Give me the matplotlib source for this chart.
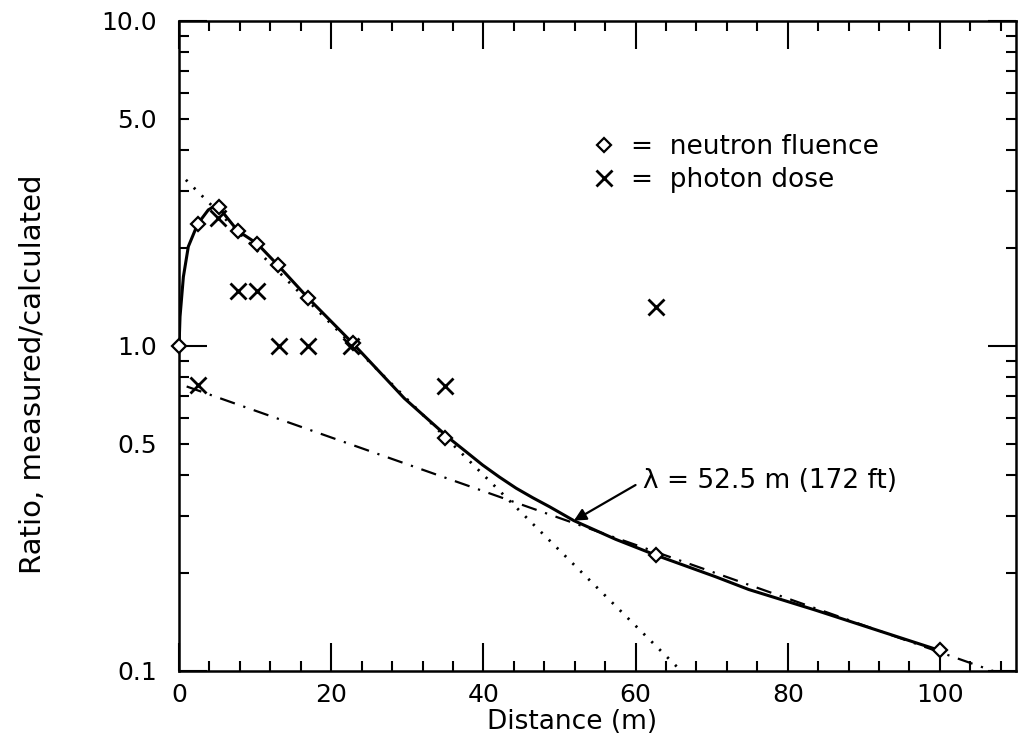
import numpy as np
import matplotlib
matplotlib.use('Agg')
import matplotlib.pyplot as plt
from matplotlib.lines import Line2D

# measured points
neutronX = [0, 2.5, 5.2, 7.7, 10.3, 13, 17, 22.8, 35, 62.7, 100]
neutronY = [1.0, 2.37, 2.67, 2.26, 2.06, 1.77, 1.40, 1.02, 0.52, 0.227, 0.116]
photonX = [2.5, 5.1, 7.8, 10.3, 13.2, 17, 22.6, 35, 62.7]
photonY = [0.76, 2.47, 1.47, 1.47, 1.0, 1.0, 1.0, 0.753, 1.32]

# smooth fitted curve
curveX = [0, 0.13, 0.57, 1.22, 2.45, 3.85, 4.7, 5.2, 7.7, 10.3, 13, 17, 22.8, 29.6,
          35.5, 37.7, 39.9, 42.1, 44.3, 46.5, 48.7, 51.9, 57.4, 62.7, 70.5, 74.9,
          83.6, 92.4, 99.8]
curveY = [1.0, 1.23, 1.63, 2.02, 2.37, 2.62, 2.69, 2.67, 2.26, 2.06, 1.77, 1.40, 1.02, 0.69,
          0.52, 0.473, 0.43, 0.395, 0.365, 0.341, 0.32, 0.29, 0.254, 0.227, 0.195, 0.178,
          0.154, 0.132, 0.116]

# straight (exponential) fits
dottedX = [0.9, 66]
dottedY = [3.24, 0.1]
dashdotX = [1, 107]
dashdotY = [0.75, 0.1]

xMajor = [0, 20, 40, 60, 80, 100]
yMajor = [0.1, 1.0, 10.0]
yMajorLabels = ['0.1', '1.0', '10.0']

fs = 19
tfs = 18
fig = plt.figure(figsize=(10.19, 7.42), dpi=100)
ax = fig.add_axes([0.1757, 0.0957, 0.8213, 0.8764])

ax.set_yscale('log')
ax.set_xlim(0, 110)
ax.set_ylim(0.1, 10)

ax.plot(curveX, curveY, color='black', lw=2.2, zorder=3)
ax.plot(dottedX, dottedY, color='black', lw=2.0, linestyle=(0, (0.8, 3.2)), zorder=2)
ax.plot(dashdotX, dashdotY, color='black', lw=1.6, linestyle=(0, (7, 4, 1, 4)), zorder=2)

ax.plot(neutronX, neutronY, linestyle='none', marker='D', ms=7, mfc='white', mec='black',
        mew=1.6, zorder=4, clip_on=False)
ax.plot(photonX, photonY, linestyle='none', marker='x', ms=11, mec='black', mew=2.0, zorder=5)

# legend
handles = [Line2D([], [], linestyle='none', marker='D', ms=7, mfc='white', mec='black', mew=1.6),
           Line2D([], [], linestyle='none', marker='x', ms=11, mec='black', mew=2.0)]
ax.legend(handles, ['=  neutron fluence', '=  photon dose'], loc='upper left',
          bbox_to_anchor=(0.464, 0.862), frameon=False, fontsize=fs, handlelength=1.0,
          handletextpad=0.5, labelspacing=0.25)

ax.annotate('λ = 52.5 m (172 ft)', xy=(51.9, 0.29), xytext=(61, 0.385),
            fontsize=fs, ha='left', va='center',
            arrowprops=dict(arrowstyle='-|>', color='black', lw=1.6, shrinkA=4, shrinkB=0,
                            mutation_scale=18, relpos=(0, 0.5)))

# ticks
ax.set_xticks(xMajor)
ax.set_xticks(np.arange(0, 111, 4), minor=True)
ax.set_yticks(yMajor, labels=yMajorLabels)
minorY = []
minorLabels = []
for dec in [0.1, 1.0]:
    for k in range(2, 10):
        minorY.append(k * dec)
        minorLabels.append('%.1f' % (k * dec) if k == 5 else '')
ax.set_yticks(minorY, labels=minorLabels, minor=True)

ax.tick_params(which='both', direction='in', top=True, right=True, width=1.5, labelsize=tfs)
ax.tick_params(which='major', length=20)
ax.tick_params(which='minor', length=7)
ax.tick_params(axis='x', which='both', pad=9)
ax.tick_params(axis='y', which='both', pad=16)
for s in ax.spines.values():
    s.set_linewidth(1.8)

ax.set_xlabel('Distance (m)', fontsize=fs)
ax.xaxis.set_label_coords(0.47, -0.059)
ax.set_ylabel('Ratio, measured/calculated', fontsize=21)
ax.yaxis.set_label_coords(-0.158, 0.457)

fig.savefig('out.png', dpi=100)
